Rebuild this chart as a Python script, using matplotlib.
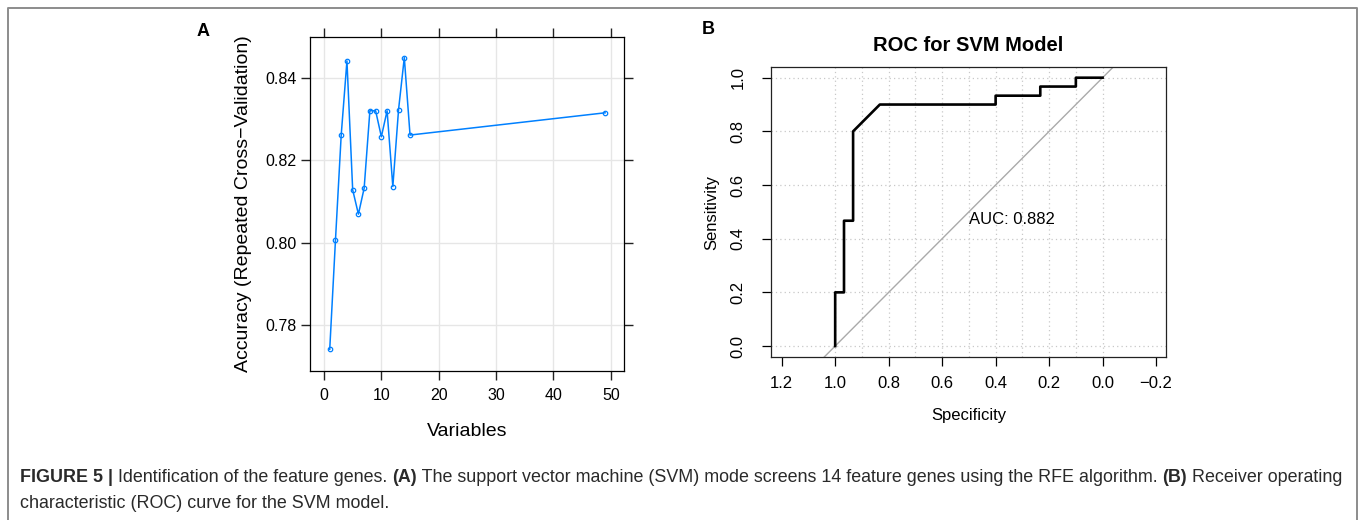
import matplotlib
matplotlib.use("Agg")
import matplotlib.pyplot as plt
from matplotlib.lines import Line2D
import numpy as np

plt.rcParams["font.family"] = ["Liberation Sans", "DejaVu Sans"]

# panel A: RFE accuracy vs number of variables
n_vars = [1, 2, 3, 4, 5, 6, 7, 8, 9, 10, 11, 12, 13, 14, 15, 49]
accuracy = [0.7741, 0.8006, 0.8261, 0.8441, 0.8128, 0.8069, 0.8132, 0.8320,
            0.8320, 0.8257, 0.8320, 0.8136, 0.8323, 0.8449, 0.8261, 0.8315]

# panel B: ROC curve (specificity, sensitivity)
roc_spec = [1.0, 1.0, 0.967, 0.967, 0.933, 0.933, 0.833, 0.4, 0.4, 0.233, 0.233, 0.1, 0.1, 0.0]
roc_sens = [0.0, 0.2, 0.2, 0.467, 0.467, 0.8, 0.9, 0.9, 0.933, 0.933, 0.967, 0.967, 1.0, 1.0]
auc_value = 0.882

W, H = 1360, 520
fig = plt.figure(figsize=(W / 100, H / 100), dpi=100)


def box(l, t, r, b):
    return [l / W, 1 - b / H, (r - l) / W, (b - t) / H]


# ---------- panel A (lattice style) ----------
axA = fig.add_axes(box(310, 37, 624, 370.7))
axA.plot(n_vars, accuracy, color="#0080ff", lw=1.1, marker="o", ms=3.2,
         mfc="none", mec="#0080ff", mew=0.9)
axA.set_xlim(-2.44, 52.3)
axA.set_ylim(0.7689, 0.8499)
xt = [0, 10, 20, 30, 40, 50]
yt = [0.78, 0.80, 0.82, 0.84]
axA.set_xticks(xt)
axA.set_yticks(yt)
axA.set_yticklabels(["%.2f" % v for v in yt])
for v in xt:
    axA.axvline(v, color="#e6e6e6", lw=1.0, zorder=0)
for v in yt:
    axA.axhline(v, color="#e6e6e6", lw=1.0, zorder=0)
axA.tick_params(direction="out", length=6.5, width=1.0, color="#222222",
                labelsize=11.5, top=True, right=True, pad=3)
axA.tick_params(axis="x", pad=6)
for s in axA.spines.values():
    s.set_linewidth(0.9)
axA.set_xlabel("Variables", fontsize=14, labelpad=14)
axA.set_ylabel("Accuracy (Repeated Cross\u2212Validation)", fontsize=14, labelpad=10)

# ---------- panel B (base R / pROC style) ----------
axB = fig.add_axes(box(771, 66.7, 1165.7, 357.3))
axB.set_xlim(1.24, -0.236)
axB.set_ylim(-0.042, 1.041)
for v in np.arange(0, 1.01, 0.1):
    axB.axvline(v, color="#c8c8c8", lw=0.9, ls=(0, (1, 2.5)), zorder=0)
for v in np.arange(0, 1.01, 0.2):
    axB.axhline(v, color="#c8c8c8", lw=0.9, ls=(0, (1, 2.5)), zorder=0)
axB.axline((1, 0), (0, 1), color="#aaaaaa", lw=1.0, zorder=1)
axB.plot(roc_spec, roc_sens, color="black", lw=1.9, zorder=2)
axB.text(0.5, 0.473, "AUC: %.3f" % auc_value, fontsize=12, ha="left", va="center")
bx = [1.2, 1.0, 0.8, 0.6, 0.4, 0.2, 0.0, -0.2]
by = [0.0, 0.2, 0.4, 0.6, 0.8, 1.0]
axB.set_xticks(bx)
axB.set_xticklabels(["%.1f" % v if v >= 0 else "\u2212%.1f" % -v for v in bx])
axB.set_yticks(by)
axB.set_yticklabels(["%.1f" % v for v in by], rotation=90, va="center")
axB.tick_params(axis="x", direction="out", length=6.5, width=0.9, labelsize=12, pad=7)
axB.tick_params(axis="y", direction="out", length=6.5, width=0.9, labelsize=12, pad=12)
for s in axB.spines.values():
    s.set_linewidth(0.9)
    s.set_color("#222222")
axB.set_xlabel("Specificity", fontsize=12, labelpad=12)
axB.set_ylabel("Sensitivity", fontsize=12, labelpad=8)
axB.set_title("ROC for SVM Model", fontsize=14.5, fontweight="bold", pad=11)

# panel letters
fig.text(203 / W, 1 - 31 / H, "A", fontsize=13, fontweight="bold", ha="center", va="center")
fig.text(708 / W, 1 - 30 / H, "B", fontsize=13, fontweight="bold", ha="center", va="center")

# frame around figure
fig.add_artist(Line2D([7.5 / W, 7.5 / W, 1356.5 / W, 1356.5 / W],
                      [0, 1 - 7.5 / H, 1 - 7.5 / H, 0],
                      transform=fig.transFigure, color="#8c8c8c", lw=1.4))

# caption with mixed bold runs
cap_font = ["Liberation Sans Narrow", "Liberation Sans", "DejaVu Sans"]
line1 = [("FIGURE 5 | ", True), ("Identification of the feature genes. ", False),
         ("(A)", True), (" The support vector machine (SVM) mode screens 14 feature genes "
                         "using the RFE algorithm. ", False),
         ("(B)", True), (" Receiver operating", False)]
line2 = [("characteristic (ROC) curve for the SVM model.", False)]

renderer = fig.canvas.get_renderer()


def runs_width(runs, size):
    total = 0
    for txt, bold in runs:
        t = fig.text(0, 0, txt, fontsize=size, family=cap_font,
                     fontweight="bold" if bold else "normal")
        total += t.get_window_extent(renderer).width
        t.remove()
    return total


cap_size = 10 * 1322 / runs_width(line1, 10)


def draw_runs(runs, x, y):
    for txt, bold in runs:
        t = fig.text(x / W, 1 - y / H, txt, fontsize=cap_size, family=cap_font,
                     fontweight="bold" if bold else "normal", color="#2a2a2a",
                     va="center", ha="left")
        x += t.get_window_extent(renderer).width


draw_runs(line1, 20, 477)
draw_runs(line2, 20, 503)

fig.savefig("out.png", dpi=100)
